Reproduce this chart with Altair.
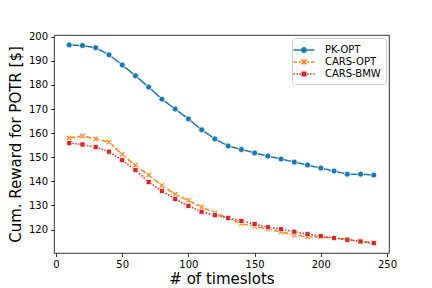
import altair as alt
import pandas as pd

timeslots = [10, 20, 30, 40, 50, 60, 70, 80, 90, 100, 110, 120,
             130, 140, 150, 160, 170, 180, 190, 200, 210, 220, 230, 240]
pk_opt = [196.6, 196.3, 195.4, 192.5, 188.3, 183.8, 179.1, 174.1, 170.0, 165.9, 161.4, 157.6,
          154.7, 153.2, 151.8, 150.5, 149.3, 148.0, 146.8, 145.5, 144.3, 143.0, 143.0, 142.6]
cars_opt = [158.0, 158.8, 157.6, 156.3, 151.2, 146.6, 142.6, 138.3, 134.7, 132.1, 129.3, 127.0,
            124.8, 122.5, 121.4, 120.2, 119.0, 117.8, 117.0, 116.9, 116.5, 116.0, 115.1, 114.4]
cars_bmw = [155.9, 155.3, 154.2, 152.3, 148.8, 144.7, 139.7, 136.0, 132.7, 129.8, 127.4, 126.0,
            124.8, 123.6, 122.3, 121.0, 120.2, 119.1, 118.1, 117.3, 116.5, 115.8, 115.1, 114.4]
series_names = ["PK-OPT", "CARS-OPT", "CARS-BMW"]
series_colors = ["#1f77b4", "#ff7f0e", "#d62728"]
x_ticks = [0, 50, 100, 150, 200, 250]
y_ticks = [120, 130, 140, 150, 160, 170, 180, 190, 200]

rows = []
for name, vals in zip(series_names, [pk_opt, cars_opt, cars_bmw]):
    for t, v in zip(timeslots, vals):
        rows.append({"t": t, "v": v, "series": name})
df = pd.DataFrame(rows)

X_PATH = ("M-1,-0.6L-0.6,-1L0,-0.4L0.6,-1L1,-0.6L0.4,0L1,0.6L0.6,1"
          "L0,0.4L-0.6,1L-1,0.6L-0.4,0Z")

# legend glyphs: line pieces as thin filled bars + marker (scaled: 1 unit = 7px)
h = 0.107
leg_pk = (f"M-1.5,{-h}H-0.43V{h}H-1.5Z M0.43,{-h}H1.5V{h}H0.43Z "
          "M0.43,0A0.43,0.43,0,1,1,-0.43,0A0.43,0.43,0,1,1,0.43,0Z")
leg_opt = (f"M-1.5,{-h}H-1.0V{h}H-1.5Z M-0.75,{-h}H-0.43V{h}H-0.75Z "
           f"M0.43,{-h}H0.75V{h}H0.43Z M1.0,{-h}H1.5V{h}H1.0Z "
           "M-0.43,-0.26L-0.26,-0.43L0,-0.17L0.26,-0.43L0.43,-0.26L0.17,0L0.43,0.26L0.26,0.43"
           "L0,0.17L-0.26,0.43L-0.43,0.26L-0.17,0Z")
leg_bmw = (f"M-1.5,{-h}H-1.29V{h}H-1.5Z M-1.07,{-h}H-0.86V{h}H-1.07Z M-0.64,{-h}H-0.43V{h}H-0.64Z "
           f"M0.43,{-h}H0.64V{h}H0.43Z M0.86,{-h}H1.07V{h}H0.86Z M1.29,{-h}H1.5V{h}H1.29Z "
           "M-0.36,-0.36H0.36V0.36H-0.36Z")

x_scale = alt.Scale(domain=[-1.5, 251.5], nice=False, zero=False)
y_scale = alt.Scale(domain=[110.3, 200.7], nice=False, zero=False)
color_scale = alt.Scale(domain=series_names, range=series_colors)

x_enc = alt.X("t:Q", scale=x_scale, title="# of timeslots",
              axis=alt.Axis(values=x_ticks, format="d"))
y_enc = alt.Y("v:Q", scale=y_scale, title="Cum. Reward for POTR [$]",
              axis=alt.Axis(values=y_ticks, format="d"))

leg = alt.Legend(title=None, orient="none", legendX=238, legendY=3)

base = alt.Chart(df)

legend_layer = base.mark_point(filled=True, size=0).encode(
    x=x_enc, y=y_enc,
    color=alt.Color("series:N", scale=color_scale, legend=leg),
    shape=alt.Shape("series:N", legend=leg,
                    scale=alt.Scale(domain=series_names, range=[leg_pk, leg_opt, leg_bmw])),
)

lines = base.mark_line(strokeWidth=1.5).encode(
    x=x_enc, y=y_enc,
    color=alt.Color("series:N", scale=color_scale, legend=leg),
    strokeDash=alt.StrokeDash("series:N", legend=None,
                              scale=alt.Scale(domain=series_names,
                                              range=[[1, 0], [6, 2.25], [1.5, 1.5]])),
)

shapes = ["circle", X_PATH, "square"]
sizes = [36, 36, 26]
point_layers = []
for name, shp, sz in zip(series_names, shapes, sizes):
    point_layers.append(
        base.transform_filter(alt.datum.series == name)
        .mark_point(filled=True, shape=shp, size=sz, stroke="white",
                    strokeWidth=0.75, opacity=1)
        .encode(x=x_enc, y=y_enc,
                color=alt.Color("series:N", scale=color_scale, legend=leg))
    )

chart = alt.layer(legend_layer, lines, *point_layers).properties(
    width=335, height=218,
    padding={"left": 46, "top": 27, "right": 35, "bottom": 35},
    autosize=alt.AutoSizeParams(type="none"),
).configure_view(
    stroke="black", strokeWidth=0.8
).configure_axis(
    grid=False, domain=False,
    tickColor="black", tickSize=3.5, tickWidth=0.8,
    labelFont="DejaVu Sans", labelFontSize=10, labelColor="black", labelPadding=3,
    titleFont="DejaVu Sans", titleFontSize=15, titleFontWeight="normal", titleColor="black",
).configure_axisX(
    titlePadding=2
).configure_axisY(
    titlePadding=5
).configure_legend(
    strokeColor="#cccccc", cornerRadius=3, fillColor="rgba(255,255,255,0.8)",
    padding=5, labelFont="DejaVu Sans", labelFontSize=10, labelColor="black",
    symbolSize=196, symbolStrokeWidth=0, symbolOpacity=1, labelOffset=14, rowPadding=0,
)

chart.save("out.html", embed_options={"renderer": "svg", "actions": False})
